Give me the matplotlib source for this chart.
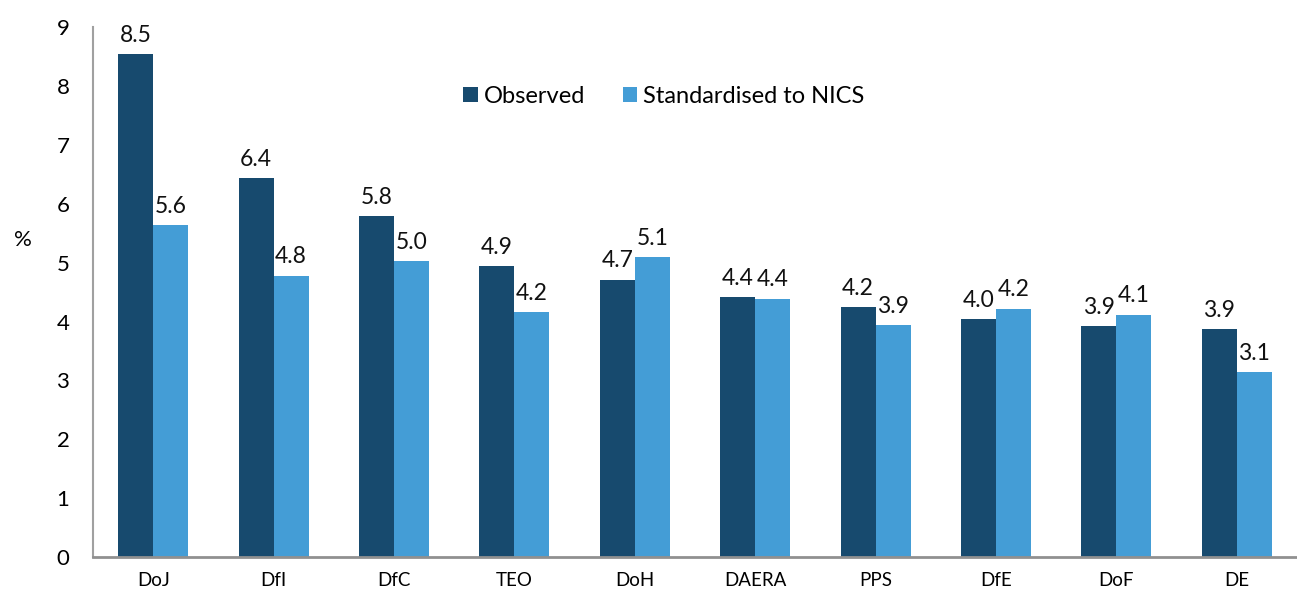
import numpy as np
import matplotlib.pyplot as plt

# dados do gráfico
departamentos = ['DoJ', 'DfI', 'DfC', 'TEO', 'DoH', 'DAERA', 'PPS', 'DfE', 'DoF', 'DE']
observado = [8.54, 6.44, 5.79, 4.94, 4.71, 4.42, 4.24, 4.04, 3.92, 3.87]
padronizado = [5.64, 4.78, 5.03, 4.16, 5.09, 4.39, 3.94, 4.22, 4.12, 3.14]

cor_obs = '#174A6E'
cor_pad = '#449DD6'

plt.rcParams['font.family'] = ['Lato', 'DejaVu Sans']

fig = plt.figure(figsize=(12.97, 5.92), dpi=100)
ax = fig.add_axes([0.0717, 0.059, 0.9283, 0.895])

x = np.arange(len(departamentos))
w = 0.29
b1 = ax.bar(x - w / 2, observado, w, color=cor_obs, label='Observed')
b2 = ax.bar(x + w / 2, padronizado, w, color=cor_pad, label='Standardised to NICS')

for barras, vals in [(b1, observado), (b2, padronizado)]:
    for r, v in zip(barras, vals):
        ax.annotate(f'{v:.1f}', (r.get_x() + r.get_width() / 2, v),
                    xytext=(0, 6), textcoords='offset points',
                    ha='center', va='bottom', fontsize=16.5, color='#111111')

ax.set_xlim(-0.5, len(departamentos) - 0.5)
ax.set_ylim(0, 9)
ax.set_yticks(range(0, 10))
ax.set_xticks(x)
ax.set_xticklabels(departamentos, fontsize=13.5)
ax.tick_params(axis='y', length=0, labelsize=16, pad=17)
ax.tick_params(axis='x', length=0, pad=11)
ax.set_ylabel('%', rotation=0, fontsize=16)
ax.yaxis.set_label_coords(-0.058, 0.58)

for s in ['top', 'right']:
    ax.spines[s].set_visible(False)
ax.spines['left'].set_color('#A0A0A0')
ax.spines['left'].set_linewidth(1.5)
ax.spines['bottom'].set_color('#909090')
ax.spines['bottom'].set_linewidth(2)

ax.legend(loc='upper left', bbox_to_anchor=(0.29, 0.93), ncol=2, frameon=False,
          fontsize=17, handlelength=0.6, handleheight=0.6, handletextpad=0.25,
          columnspacing=1.6)

plt.savefig('out.png', dpi=100)
